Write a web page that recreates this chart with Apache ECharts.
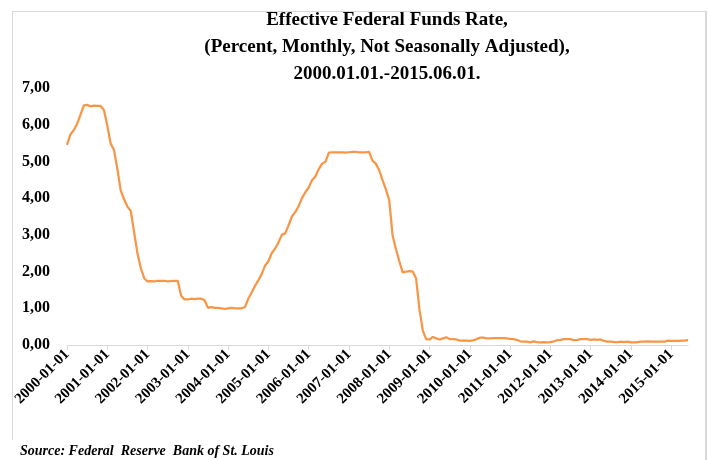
<!DOCTYPE html>
<html>
<head>
<meta charset="utf-8">
<script src="https://cdn.jsdelivr.net/npm/echarts@6/dist/echarts.min.js"></script>
<style>
  html, body { margin: 0; padding: 0; background: #fff; }
  #chart { width: 708px; height: 460px; }
</style>
</head>
<body>
<div id="chart"></div>
<script>
// Effective Federal Funds Rate, monthly, percent
var years = [2000, 2001, 2002, 2003, 2004, 2005, 2006, 2007, 2008, 2009, 2010, 2011, 2012, 2013, 2014, 2015];
var rate2000 = [5.45, 5.73, 5.85, 6.02, 6.27, 6.53, 6.54, 6.50, 6.52, 6.51, 6.51, 6.40];
var rate2001 = [5.98, 5.49, 5.31, 4.80, 4.21, 3.97, 3.77, 3.65, 3.07, 2.49, 2.09, 1.82];
var rate2002 = [1.73, 1.74, 1.73, 1.75, 1.75, 1.75, 1.73, 1.74, 1.75, 1.75, 1.34, 1.24];
var rate2003 = [1.24, 1.26, 1.25, 1.26, 1.26, 1.22, 1.01, 1.03, 1.01, 1.01, 1.00, 0.98];
var rate2004 = [1.00, 1.01, 1.00, 1.00, 1.00, 1.03, 1.26, 1.43, 1.61, 1.76, 1.93, 2.16];
var rate2005 = [2.28, 2.50, 2.63, 2.79, 3.00, 3.04, 3.26, 3.50, 3.62, 3.78, 4.00, 4.16];
var rate2006 = [4.29, 4.49, 4.59, 4.79, 4.94, 4.99, 5.24, 5.25, 5.25, 5.25, 5.25, 5.24];
var rate2007 = [5.25, 5.26, 5.26, 5.25, 5.25, 5.25, 5.26, 5.02, 4.94, 4.76, 4.49, 4.24];
var rate2008 = [3.94, 2.98, 2.61, 2.28, 1.98, 2.00, 2.01, 2.00, 1.81, 0.97, 0.39, 0.16];
var rate2009 = [0.15, 0.22, 0.18, 0.15, 0.18, 0.21, 0.16, 0.16, 0.15, 0.12, 0.12, 0.12];
var rate2010 = [0.11, 0.13, 0.16, 0.20, 0.20, 0.18, 0.18, 0.19, 0.19, 0.19, 0.19, 0.18];
var rate2011 = [0.17, 0.16, 0.14, 0.10, 0.09, 0.09, 0.07, 0.10, 0.08, 0.07, 0.08, 0.07];
var rate2012 = [0.08, 0.10, 0.13, 0.14, 0.16, 0.16, 0.16, 0.13, 0.14, 0.16, 0.16, 0.16];
var rate2013 = [0.14, 0.15, 0.14, 0.15, 0.11, 0.09, 0.09, 0.08, 0.08, 0.09, 0.08, 0.09];
var rate2014 = [0.07, 0.07, 0.08, 0.09, 0.09, 0.10, 0.09, 0.09, 0.09, 0.09, 0.09, 0.12];
var rate2015 = [0.11, 0.11, 0.11, 0.12, 0.12, 0.13];

var byYear = [rate2000, rate2001, rate2002, rate2003, rate2004, rate2005, rate2006, rate2007,
              rate2008, rate2009, rate2010, rate2011, rate2012, rate2013, rate2014, rate2015];

var months = [];
var values = [];
years.forEach(function (y, i) {
    byYear[i].forEach(function (v, m) {
        var mm = m + 1 < 10 ? '0' + (m + 1) : '' + (m + 1);
        months.push(y + '-' + mm + '-01');
        values.push(v);
    });
});

var serif = '"Liberation Serif", "DejaVu Serif", serif';
var myChart = echarts.init(document.getElementById('chart'));

var option = {
    animation: false,
    title: {
        text: 'Effective Federal Funds Rate,\n(Percent, Monthly, Not Seasonally Adjusted),\n2000.01.01.-2015.06.01.',
        left: 382,
        top: 2,
        textAlign: 'center',
        textStyle: {
            fontFamily: serif,
            fontWeight: 'bold',
            fontSize: 19,
            lineHeight: 27,
            color: '#000'
        }
    },
    grid: { left: 67, right: 20, top: 88, bottom: 115, containLabel: false },
    xAxis: {
        type: 'category',
        data: months,
        boundaryGap: false,
        axisLine: { lineStyle: { color: '#d9d9d9', width: 1 } },
        axisTick: {
            show: true,
            length: 5,
            lineStyle: { color: '#d9d9d9' },
            interval: function (idx) { return idx % 12 === 0; }
        },
        axisLabel: {
            rotate: 45,
            interval: function (idx) { return idx % 12 === 0; },
            fontFamily: serif,
            fontWeight: 'bold',
            fontSize: 15,
            color: '#000',
            margin: 7
        },
        splitLine: { show: false }
    },
    yAxis: {
        type: 'value',
        min: 0,
        max: 7,
        interval: 1,
        axisLine: { show: false },
        axisTick: { show: false },
        splitLine: { show: false },
        axisLabel: {
            fontFamily: serif,
            fontWeight: 'bold',
            fontSize: 16,
            color: '#000',
            margin: 17,
            formatter: function (v) { return v.toFixed(2).replace('.', ','); }
        }
    },
    series: [{
        type: 'line',
        data: values,
        showSymbol: false,
        symbol: 'none',
        lineStyle: { color: '#F79646', width: 2.25 },
        itemStyle: { color: '#F79646' }
    }],
    graphic: [
        { type: 'line', shape: { x1: 12, y1: 11.5, x2: 706, y2: 11.5 }, style: { stroke: '#d9d9d9', lineWidth: 1 } },
        { type: 'line', shape: { x1: 12.5, y1: 11, x2: 12.5, y2: 440 }, style: { stroke: '#d9d9d9', lineWidth: 1 } },
        { type: 'line', shape: { x1: 706, y1: 11, x2: 706, y2: 460 }, style: { stroke: '#d9d9d9', lineWidth: 2 } },
        {
            type: 'text',
            left: 20,
            top: 444,
            style: {
                text: 'Source: Federal  Reserve  Bank of St. Louis',
                font: 'italic bold 14px ' + serif,
                fill: '#000'
            }
        }
    ]
};

myChart.setOption(option);
window.addEventListener('resize', function () { myChart.resize(); });
</script>
</body>
</html>
